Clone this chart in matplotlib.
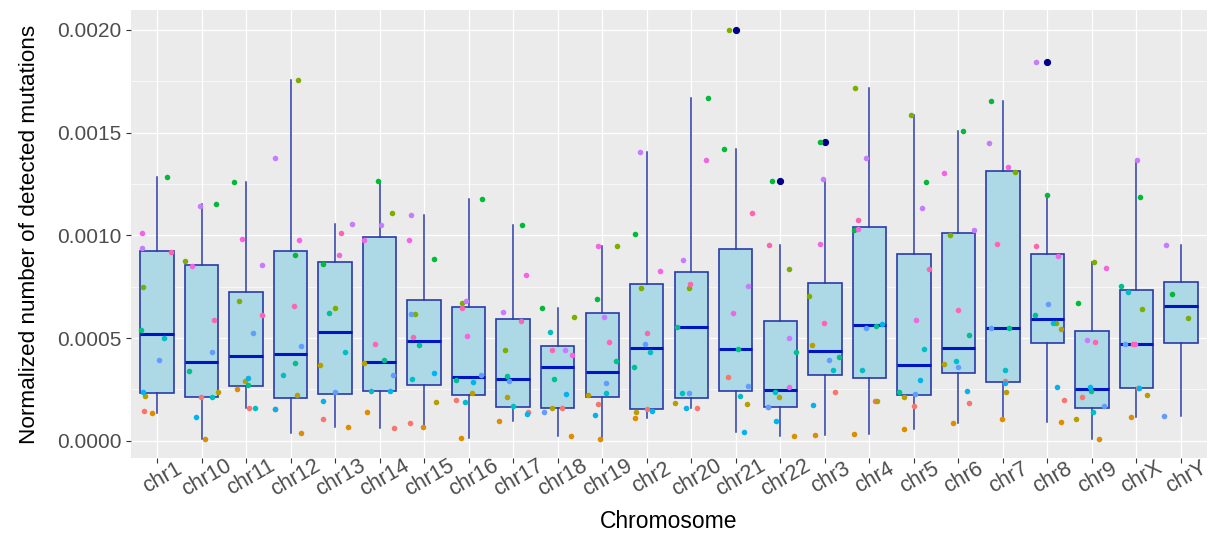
import numpy as np
import matplotlib
matplotlib.use("Agg")
import matplotlib.pyplot as plt
from matplotlib.ticker import FormatStrFormatter, MultipleLocator

plt.rcParams['font.family'] = ['Liberation Sans', 'DejaVu Sans']

nan = np.nan

# chromosomes in the (alphabetical) order of the x axis
chroms = ["chr1", "chr10", "chr11", "chr12", "chr13", "chr14", "chr15", "chr16",
          "chr17", "chr18", "chr19", "chr2", "chr20", "chr21", "chr22", "chr3",
          "chr4", "chr5", "chr6", "chr7", "chr8", "chr9", "chrX", "chrY"]

# normalized mutation counts per sample, in units of 1e-4 (one value per chromosome)
s01 = [1.46, 2.14, 1.61, 1.56, 1.07, 0.60, 0.86, 1.98, 1.41, 1.61, 1.79, 1.56, 1.61, 3.12, 1.64, 2.39, 1.93, 1.69, 1.83, 2.91, 1.98, 2.11, 2.56, nan]
s02 = [1.33, 0.08, 2.50, 0.36, 0.65, 1.38, 0.65, 0.15, 0.96, 0.23, 0.10, 1.10, nan, nan, 0.23, 0.28, 0.31, 0.55, 0.88, 1.06, 0.93, 0.10, 1.14, nan]
s03 = [2.19, 2.39, 2.89, 2.24, 3.67, 3.78, 1.88, 2.34, 2.14, 1.61, 2.24, 1.38, 1.82, 1.79, 2.13, 4.66, 1.93, 2.13, 3.75, 2.39, 5.45, 1.06, 2.24, nan]
s04 = [7.47, 8.75, 6.82, 17.58, 6.44, 11.09, 6.17, 6.69, 4.40, 6.01, 9.48, 7.42, 7.42, 19.99, 8.34, 7.05, 17.16, 15.84, 10.03, 13.08, 5.73, 8.70, 6.41, 5.96]
s05 = [12.82, 11.51, 12.58, 9.06, 8.60, 12.65, 8.83, 11.77, 10.49, 6.46, 6.92, 10.08, 16.67, 14.20, 12.63, 14.56, 10.28, 12.58, 15.06, 16.53, 11.95, 6.69, 11.85, 7.14]
s06 = [5.41, 3.39, 2.69, 3.77, 6.23, 3.93, 4.66, 2.97, 3.13, 2.99, 3.90, 3.57, 5.54, 4.45, 4.30, 4.07, 5.59, 2.39, 5.13, 5.50, 6.10, 2.42, 7.55, nan]
s07 = [4.98, 2.14, 1.61, 3.21, 4.32, 2.44, 3.02, 1.87, 1.69, 5.31, 2.34, 4.30, 2.34, 2.19, 2.37, 3.44, 3.43, 4.48, 3.86, 3.44, 5.73, 1.38, 7.24, nan]
s08 = [2.39, 1.14, 3.07, 1.56, 1.93, 2.44, 3.30, 2.84, 1.31, 2.29, 1.23, 1.46, 1.61, 0.45, 0.96, 1.74, 5.67, 2.94, 2.44, 2.79, 2.61, 2.61, 2.56, nan]
s09 = [3.94, 4.32, 5.23, 4.63, 2.39, 3.21, 6.19, 3.21, 2.89, 1.38, 2.79, 4.72, 2.34, 2.66, 1.64, 3.93, 5.50, 2.27, 3.57, 5.50, 6.66, 1.69, 4.69, 1.20]
s10 = [9.38, 11.41, 8.57, 13.78, 10.54, 10.49, 10.99, 6.82, 6.27, 4.40, 6.01, 14.06, 8.80, 7.55, 4.98, 12.73, 13.75, 11.35, 10.28, 14.51, 18.46, 4.90, 13.65, 9.53]
s11 = [10.13, 8.52, 9.81, 9.76, 9.03, 9.76, 9.76, 5.08, 8.05, 4.16, 9.48, 8.25, 13.65, 6.23, 2.61, 9.58, 10.31, 5.86, 13.05, 13.33, 8.98, 8.39, 4.69, nan]
s12 = [9.20, 5.88, 6.14, 6.54, 10.13, 4.72, 5.03, 6.46, 5.81, 4.40, 4.81, 5.26, 7.65, 11.09, 9.53, 5.71, 10.76, 8.34, 6.36, 9.58, 9.48, 4.81, 4.69, nan]

samples = [s01, s02, s03, s04, s05, s06, s07, s08, s09, s10, s11, s12]
# ggplot default hue palette for 12 groups
colors = ["#F8766D", "#DE8C00", "#B79F00", "#7CAE00", "#00BA38", "#00C08B",
          "#00BFC4", "#00B4F0", "#619CFF", "#C77CFF", "#F564E3", "#FF64B0"]

vals = np.array(samples) * 1e-4          # shape (samples, chromosomes)
pos = np.arange(1, len(chroms) + 1)

fig = plt.figure(figsize=(12.1, 5.36), dpi=100)
ax = fig.add_axes([131 / 1210, 1 - 458 / 536, (1207 - 131) / 1210, (458 - 10) / 536])
ax.set_facecolor("#EBEBEB")

# grid like theme_gray
ax.yaxis.set_major_locator(MultipleLocator(0.0005))
ax.yaxis.set_minor_locator(MultipleLocator(0.00025))
ax.grid(which="major", color="white", linewidth=0.9, zorder=0)
ax.grid(which="minor", axis="y", color="white", linewidth=0.45, zorder=0)
ax.set_axisbelow(True)

# boxplots
per_chrom = [col[~np.isnan(col)] for col in vals.T]
edge = "#2B3BA8"
ax.boxplot(per_chrom, positions=pos, widths=0.75, patch_artist=True, showcaps=False,
           boxprops=dict(facecolor="#ADD8E6", edgecolor=edge, linewidth=1.2),
           whiskerprops=dict(color=edge, linewidth=1.1),
           medianprops=dict(color="#0016C0", linewidth=2.2),
           flierprops=dict(marker="o", markerfacecolor="#00008B", markeredgecolor="#00008B",
                           markersize=4.2),
           zorder=2)

# jittered sample points
rng = np.random.default_rng(11)
for i, ser in enumerate(vals):
    jit = rng.uniform(-0.38, 0.38, size=len(pos))
    ax.scatter(pos + jit, ser, s=16, color=colors[i], linewidths=0, zorder=3)

ax.set_xlim(0.416, 24.584)
ax.set_ylim(-0.000084, 0.002097)
ax.yaxis.set_major_formatter(FormatStrFormatter("%.4f"))
ax.set_xticks(pos)
ax.set_xticklabels(chroms, rotation=30, ha="center", va="top", rotation_mode="anchor")

for s in ax.spines.values():
    s.set_visible(False)
ax.tick_params(axis="both", which="major", length=3.5, width=0.8, color="#333333",
               labelsize=15, labelcolor="#4D4D4D")
ax.tick_params(axis="x", labelsize=15.5, pad=4)
ax.tick_params(axis="y", which="minor", length=0)

ax.set_xlabel("Chromosome", fontsize=16.5, color="black", labelpad=7)
ax.set_ylabel("Normalized number of detected mutations", fontsize=16.2, color="black", labelpad=12)

fig.savefig("out.png", dpi=100)
